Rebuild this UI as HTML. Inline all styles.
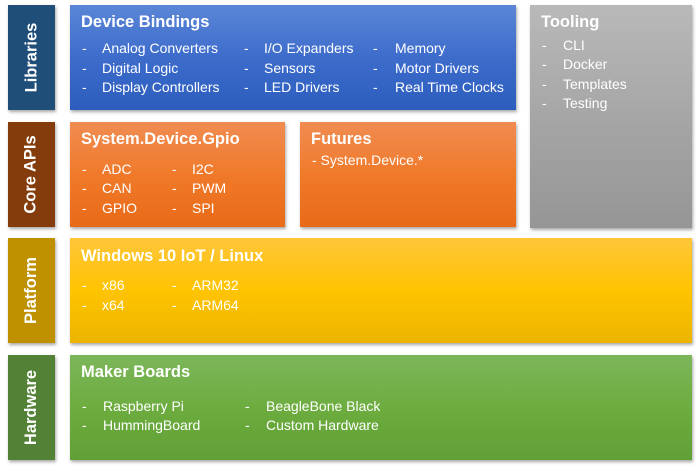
<!DOCTYPE html>
<html><head><meta charset="utf-8"><style>
*{margin:0;padding:0;box-sizing:border-box}
body{width:700px;height:471px;background:#fff;position:relative;overflow:hidden;font-family:"Liberation Sans",sans-serif;color:#fff}
.b{position:absolute;box-shadow:1px 2px 3px rgba(0,0,0,.35)}
.lab{display:flex;align-items:center;justify-content:center}
.lab span{transform:rotate(-90deg);font-weight:bold;font-size:16.5px;white-space:nowrap}
.t{position:absolute;white-space:nowrap;font-size:14px;line-height:16px}
.h{position:absolute;white-space:nowrap;font-size:16.5px;font-weight:bold;line-height:20px}
.blue{background:linear-gradient(#5b86d6,#3d6ccb 50%,#2c5dbd)}
.or{background:linear-gradient(#f08c52,#f07a2a 50%,#e86a18)}
.gr{background:linear-gradient(#b9b9b9,#a6a6a6 50%,#959595)}
.ye{background:linear-gradient(#ffc53a,#ffc400 50%,#ebb400)}
.gn{background:linear-gradient(#7cb65a,#6dad3f 50%,#60a035)}
</style></head><body>
<div class="b lab" style="left:8px;top:5px;width:47px;height:105px;background:#1f4e79"><span>Libraries</span></div>
<div class="b lab" style="left:8px;top:122px;width:47px;height:105px;background:#843c0c"><span>Core APIs</span></div>
<div class="b lab" style="left:8px;top:238px;width:47px;height:105px;background:#bf9000"><span>Platform</span></div>
<div class="b lab" style="left:8px;top:355px;width:47px;height:105px;background:#538135"><span>Hardware</span></div>

<div class="b blue" style="left:70px;top:5px;width:446px;height:105px"></div>
<div class="b gr" style="left:530px;top:5px;width:162px;height:223px"></div>
<div class="b or" style="left:70px;top:122px;width:215px;height:105px"></div>
<div class="b or" style="left:300px;top:122px;width:216px;height:105px"></div>
<div class="b ye" style="left:70px;top:238px;width:622px;height:105px"></div>
<div class="b gn" style="left:70px;top:355px;width:622px;height:105px"></div>

<div class="h" style="left:81px;top:12px">Device Bindings</div>
<div class="t" style="left:82px;top:40px">-</div><div class="t" style="left:102px;top:40px">Analog Converters</div>
<div class="t" style="left:82px;top:60px">-</div><div class="t" style="left:102px;top:60px">Digital Logic</div>
<div class="t" style="left:82px;top:79px">-</div><div class="t" style="left:102px;top:79px">Display Controllers</div>
<div class="t" style="left:244px;top:40px">-</div><div class="t" style="left:264px;top:40px">I/O Expanders</div>
<div class="t" style="left:244px;top:60px">-</div><div class="t" style="left:264px;top:60px">Sensors</div>
<div class="t" style="left:244px;top:79px">-</div><div class="t" style="left:264px;top:79px">LED Drivers</div>
<div class="t" style="left:373px;top:40px">-</div><div class="t" style="left:395px;top:40px">Memory</div>
<div class="t" style="left:373px;top:60px">-</div><div class="t" style="left:395px;top:60px">Motor Drivers</div>
<div class="t" style="left:373px;top:79px">-</div><div class="t" style="left:395px;top:79px">Real Time Clocks</div>

<div class="h" style="left:541px;top:12px">Tooling</div>
<div class="t" style="left:542px;top:37px">-</div><div class="t" style="left:563px;top:37px">CLI</div>
<div class="t" style="left:542px;top:56px">-</div><div class="t" style="left:563px;top:56px">Docker</div>
<div class="t" style="left:542px;top:76px">-</div><div class="t" style="left:563px;top:76px">Templates</div>
<div class="t" style="left:542px;top:95px">-</div><div class="t" style="left:563px;top:95px">Testing</div>

<div class="h" style="left:81px;top:129px">System.Device.Gpio</div>
<div class="t" style="left:82px;top:161px">-</div><div class="t" style="left:102px;top:161px">ADC</div>
<div class="t" style="left:82px;top:180px">-</div><div class="t" style="left:102px;top:180px">CAN</div>
<div class="t" style="left:82px;top:200px">-</div><div class="t" style="left:102px;top:200px">GPIO</div>
<div class="t" style="left:172px;top:161px">-</div><div class="t" style="left:192px;top:161px">I2C</div>
<div class="t" style="left:172px;top:180px">-</div><div class="t" style="left:192px;top:180px">PWM</div>
<div class="t" style="left:172px;top:200px">-</div><div class="t" style="left:192px;top:200px">SPI</div>

<div class="h" style="left:311px;top:129px">Futures</div>
<div class="t" style="left:312px;top:152px">- System.Device.*</div>

<div class="h" style="left:81px;top:246px">Windows 10 IoT / Linux</div>
<div class="t" style="left:82px;top:277px">-</div><div class="t" style="left:102px;top:277px">x86</div>
<div class="t" style="left:82px;top:297px">-</div><div class="t" style="left:102px;top:297px">x64</div>
<div class="t" style="left:172px;top:277px">-</div><div class="t" style="left:192px;top:277px">ARM32</div>
<div class="t" style="left:172px;top:297px">-</div><div class="t" style="left:192px;top:297px">ARM64</div>

<div class="h" style="left:81px;top:362px">Maker Boards</div>
<div class="t" style="left:82px;top:398px">-</div><div class="t" style="left:103px;top:398px">Raspberry Pi</div>
<div class="t" style="left:82px;top:417px">-</div><div class="t" style="left:103px;top:417px">HummingBoard</div>
<div class="t" style="left:245px;top:398px">-</div><div class="t" style="left:266px;top:398px">BeagleBone Black</div>
<div class="t" style="left:245px;top:417px">-</div><div class="t" style="left:266px;top:417px">Custom Hardware</div>
</body></html>
